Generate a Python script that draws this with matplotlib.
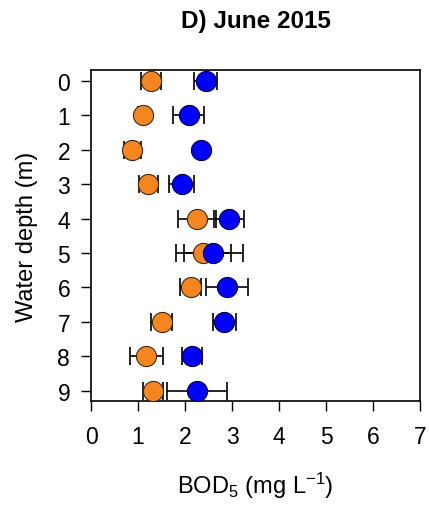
import matplotlib
matplotlib.use("Agg")
import matplotlib.pyplot as plt
import numpy as np

plt.rcParams['font.family'] = ['Liberation Sans', 'DejaVu Sans']
plt.rcParams['mathtext.fontset'] = 'custom'
plt.rcParams['mathtext.rm'] = 'Liberation Sans'
plt.rcParams['mathtext.it'] = 'Liberation Sans:italic'

# Water depth (m)
depth = [0, 1, 2, 3, 4, 5, 6, 7, 8, 9]

# BOD5 (mg/L), mean and standard error, two series
orange_mean = [1.27, 1.10, 0.88, 1.22, 2.26, 2.39, 2.12, 1.50, 1.18, 1.32]
orange_err = [0.21, 0.10, 0.18, 0.20, 0.40, 0.59, 0.23, 0.23, 0.35, 0.21]
blue_mean = [2.44, 2.08, 2.34, 1.93, 2.93, 2.60, 2.89, 2.84, 2.15, 2.26]
blue_err = [0.25, 0.33, 0.05, 0.27, 0.32, 0.63, 0.45, 0.24, 0.22, 0.64]

xticks = [0, 1, 2, 3, 4, 5, 6, 7]

fig = plt.figure(figsize=(4.29, 5.06), dpi=100)
ax = fig.add_axes([91/429, 1 - 402/506, (420 - 91)/429, (402 - 71)/506])

ebkw = dict(fmt='none', ecolor='black', elinewidth=1.2, capsize=6.5, capthick=1.2, zorder=2)
ax.errorbar(orange_mean, depth, xerr=orange_err, **ebkw)
ax.errorbar(blue_mean, depth, xerr=blue_err, **ebkw)

ax.plot(orange_mean, depth, 'o', ms=14.5, mfc='#F5861F', mec='#3a2a1a', mew=0.8, zorder=3)
ax.plot(blue_mean, depth, 'o', ms=14.5, mfc='#0000FF', mec='#00003a', mew=0.8, zorder=4)

ax.set_xlim(0, 7)
ax.set_ylim(9.3, -0.32)
ax.set_xticks(xticks)
ax.set_yticks(depth)

for s in ax.spines.values():
    s.set_linewidth(1.2)

ax.tick_params(axis='both', direction='out', length=7, width=1.0, labelsize=16.5, pad=8)
ax.tick_params(axis='x', top=False, pad=10)
ax.tick_params(axis='y', right=False)

ax.set_title('D) June 2015', fontsize=17.5, fontweight='bold', pad=31)
ax.set_xlabel(r'BOD$_5$ (mg L$^{\mathregular{-1}}$)', fontsize=17, labelpad=16)
ax.set_ylabel('Water depth (m)', fontsize=17, labelpad=14)

fig.savefig('out.png', dpi=100)
